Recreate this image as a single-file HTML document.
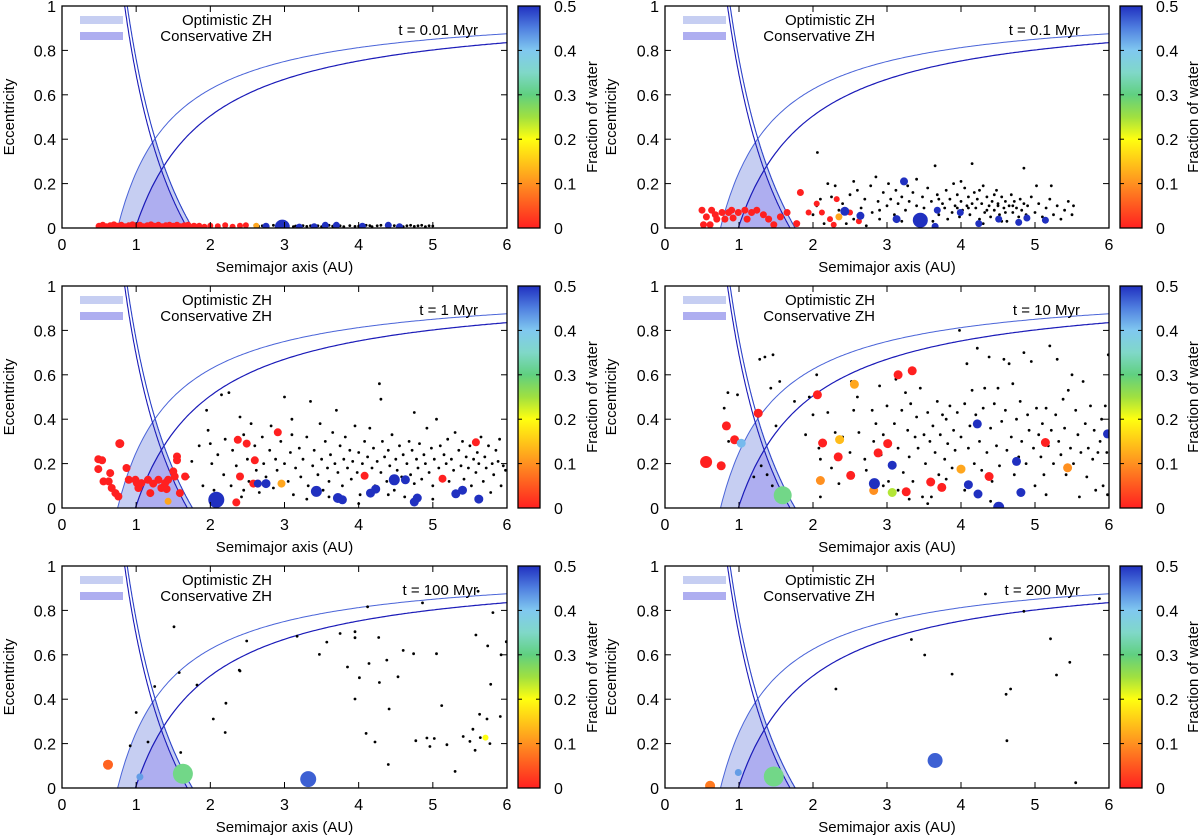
<!DOCTYPE html>
<html><head><meta charset="utf-8">
<style>
html,body{margin:0;padding:0;background:#fff;}
svg{display:block;font-family:"Liberation Sans",sans-serif;}
</style></head>
<body>
<svg id="fig" width="1200" height="837" viewBox="0 0 1200 837" xmlns="http://www.w3.org/2000/svg">
<defs>
<linearGradient id="cbg" x1="0" y1="1" x2="0" y2="0">
<stop offset="0" stop-color="#ff2020"/><stop offset="0.2" stop-color="#ff9020"/><stop offset="0.4" stop-color="#ffff10"/><stop offset="0.5" stop-color="#a0e040"/><stop offset="0.6" stop-color="#60d080"/><stop offset="0.7" stop-color="#80d8c8"/><stop offset="0.8" stop-color="#80c8f0"/><stop offset="0.9" stop-color="#5080e0"/><stop offset="1" stop-color="#2030c0"/>
</linearGradient>
</defs>
</svg>
<script>
// ---- data (a [AU], e) ----
const panelTimes = ["t = 0.01 Myr","t = 0.1 Myr","t = 1 Myr","t = 10 Myr","t = 100 Myr","t = 200 Myr"];
const xTicks = [0,1,2,3,4,5,6];
const yTicks = [0,0.2,0.4,0.6,0.8,1];
const yTickLabels = ["0","0.2","0.4","0.6","0.8","1"];
const cbTicks = [0,0.1,0.2,0.3,0.4,0.5];
const cbTickLabels = ["0","0.1","0.2","0.3","0.4","0.5"];
// HZ limits: optimistic / conservative (periastron q, apoastron Q)
const hzOptimistic = [0.75, 1.76];
const hzConservative = [0.99, 1.69];

// dots: flat [a,e,...]; bodies: flat [a,e,water,radius,...]
const dots1 = [2.6,.012,2.65,.008,2.7,.01,2.78,.006,2.85,.012,2.9,.008,3.05,.01,3.12,.006,3.25,.011,3.3,.007,3.45,.01,3.5,.006,3.6,.012,3.65,.008,3.75,.01,3.8,.006,3.88,.011,3.95,.007,4.05,.01,4.1,.012,4.18,.006,4.25,.01,4.3,.012,4.38,.007,4.48,.011,4.6,.006,4.65,.01,4.7,.012,4.75,.007,4.8,.01,4.85,.012,4.9,.006,4.95,.01,5.0,.009,3.35,.01,3.15,.009,2.95,.012,3.55,.01,4.0,.008,4.15,.011];
const bodies1 = [0.5,.008,0,3.5,0.55,.012,0,3.5,0.6,.006,0,3.5,0.65,.01,0,3.5,0.7,.014,0,3.5,0.75,.008,0,3.5,0.8,.012,0,3.5,0.85,.006,0,3.5,0.9,.01,0,3.5,0.95,.014,0,3.5,1.0,.008,0,3.5,1.05,.012,0,3.5,1.1,.006,0,3.5,1.15,.01,0,3.5,1.2,.014,0,3.5,1.25,.008,0,3.5,1.3,.012,0,3.5,1.35,.006,0,3.5,1.4,.01,0,3.5,1.45,.012,0,3.5,1.5,.008,0,3.5,1.55,.012,0,3.5,1.6,.006,0,3.5,1.65,.01,0,3.5,1.7,.012,0,3.5,1.78,.008,0,3.5,1.85,.01,0,3,1.92,.006,0,3,2.0,.01,0,3,2.1,.008,0,3,2.2,.012,0,3,2.3,.006,0,3,2.4,.01,0,3,2.48,.012,0,3,2.62,.01,0.12,3,2.75,.008,0.5,3.5,2.97,.004,0.5,7.5,3.2,.004,0.5,3.5,3.4,.006,0.5,3.5,3.55,.012,0.5,3.5,3.7,.012,0.5,3.5,4.05,.008,0.5,3.5,4.4,.012,0.5,3.5,4.55,.006,0.5,3.5];
const dots2 = [2.0,.06,2.05,.1,2.1,.13,2.15,.02,2.2,.2,2.25,.14,2.3,.19,2.35,.08,2.4,.11,2.45,.02,2.5,.15,2.55,.04,2.6,.17,2.65,.09,2.7,.13,2.72,.01,2.78,.19,2.8,.07,2.85,.23,2.88,.12,2.9,.04,2.95,.16,3.0,.1,3.02,.2,3.05,.13,3.1,.06,3.12,.17,3.15,.11,3.2,.14,3.25,.08,3.28,.19,3.3,.12,3.35,.16,3.4,.1,3.42,.05,3.48,.14,3.5,.09,3.55,.18,3.6,.12,3.62,.03,3.65,.28,3.68,.15,3.7,.06,3.75,.11,3.78,.09,3.8,.17,3.82,.04,3.85,.13,3.88,.07,3.9,.2,3.92,.1,3.95,.15,3.98,.05,4.0,.12,4.02,.08,4.05,.18,4.08,.1,4.1,.14,4.12,.06,4.15,.29,4.15,.11,4.18,.16,4.2,.09,4.22,.13,4.25,.04,4.28,.11,4.3,.19,4.32,.07,4.35,.14,4.38,.1,4.4,.05,4.42,.12,4.45,.08,4.48,.17,4.5,.11,4.52,.06,4.55,.14,4.58,.09,4.6,.12,4.62,.03,4.65,.1,4.68,.15,4.7,.07,4.72,.12,4.75,.09,4.78,.05,4.8,.13,4.82,.08,4.85,.27,4.85,.11,4.88,.06,4.9,.1,4.95,.14,5.0,.07,5.02,.19,5.05,.11,5.1,.05,5.15,.09,5.2,.13,5.22,.19,5.25,.06,5.3,.1,5.35,.04,5.4,.08,5.45,.12,5.5,.06,5.52,.1,2.06,.34,2.55,.21,3.4,.22,3.7,.13,4.3,.02,4.0,.21,3.2,.03,2.9,.08,4.45,.15,4.55,.03,4.25,.17,3.95,.09,4.35,.08,4.6,.07,4.1,.09,4.5,.1,4.7,.1];
const bodies2 = [0.5,.08,0,3.5,0.56,.05,0,3.5,0.63,.08,0,3.5,0.7,.04,0,3.5,0.77,.07,0,3.5,0.61,.015,0,3.5,0.52,.015,0,3.5,0.86,.07,0,3.5,0.9,.08,0,3.5,0.99,.07,0,3.5,1.08,.08,0,3.5,1.17,.07,0,3.5,1.24,.08,0,3.5,1.33,.06,0,3.5,1.4,.04,0,3.5,1.47,.015,0,3.5,1.56,.05,0,3.5,1.65,.07,0,3.5,0.92,.045,0,3.5,1.11,.04,0,3.5,1.83,.16,0,3.5,1.78,.02,0,3.5,1.94,.07,0,3,2.05,.11,0,3,2.12,.07,0,3,2.23,.04,0,3,2.32,.13,0,3,2.28,.015,0,3,2.5,.07,0,3,2.62,.03,0,3,0.68,.06,0,3.5,0.81,.04,0,3.5,2.35,.05,0.12,3.5,2.43,.075,0.5,4.5,2.64,.055,0.5,4,3.13,.04,0.5,4,3.23,.21,0.5,4,3.45,.035,0.5,7.5,3.65,.007,0.5,3.5,3.68,.08,0.5,3.5,3.99,.07,0.5,3.5,4.24,.02,0.5,3.5,4.51,.04,0.5,3.5,4.78,.025,0.5,3.5,4.89,.045,0.5,3.5,5.14,.035,0.5,3.5];
const dots3 = [1.75,.21,1.7,.14,1.85,.28,1.9,.1,1.95,.44,1.97,.35,2.0,.29,2.02,.2,2.05,.08,2.1,.24,2.15,.51,2.18,.15,2.2,.31,2.25,.52,2.28,.1,2.3,.26,2.35,.19,2.4,.41,2.42,.05,2.45,.33,2.5,.22,2.52,.12,2.55,.38,2.6,.28,2.62,.17,2.66,.07,2.7,.32,2.72,.2,2.75,.14,2.8,.26,2.82,.37,2.85,.09,2.88,.22,2.9,.17,2.95,.3,3.0,.5,3.0,.2,3.05,.12,3.08,.25,3.1,.33,3.12,.06,3.15,.18,3.2,.27,3.22,.14,3.25,.22,3.3,.32,3.32,.1,3.35,.48,3.38,.19,3.4,.26,3.45,.15,3.48,.38,3.5,.22,3.52,.08,3.55,.3,3.58,.18,3.6,.12,3.62,.24,3.65,.34,3.68,.2,3.7,.44,3.72,.16,3.75,.28,3.78,.1,3.8,.22,3.82,.32,3.85,.18,3.88,.26,3.9,.13,3.92,.21,3.95,.37,3.98,.16,4.0,.25,4.02,.06,4.05,.2,4.08,.3,4.1,.14,4.12,.23,4.15,.36,4.18,.18,4.2,.27,4.22,.1,4.25,.21,4.28,.56,4.3,.49,4.3,.16,4.32,.3,4.35,.23,4.38,.12,4.4,.26,4.42,.19,4.45,.33,4.48,.08,4.5,.22,4.52,.17,4.55,.28,4.58,.14,4.6,.24,4.62,.05,4.65,.2,4.68,.3,4.7,.15,4.72,.26,4.75,.43,4.75,.11,4.78,.22,4.8,.18,4.82,.29,4.85,.13,4.88,.24,4.9,.2,4.92,.36,4.95,.16,4.98,.27,5.0,.1,5.02,.22,5.05,.4,5.08,.18,5.1,.28,5.12,.14,5.15,.24,5.18,.2,5.2,.31,5.22,.12,5.25,.22,5.28,.17,5.3,.34,5.32,.07,5.35,.26,5.38,.19,5.4,.3,5.42,.13,5.45,.23,5.48,.18,5.5,.28,5.52,.1,5.55,.22,5.58,.16,5.6,.25,5.62,.2,5.65,.32,5.68,.12,5.7,.23,5.72,.18,5.75,.28,5.78,.07,5.8,.2,5.82,.15,5.85,.26,5.88,.21,5.9,.31,5.92,.1,5.95,.19,5.98,.17,3.1,.4,2.45,.08,3.6,.05,4.0,.02,4.4,.06,5.0,.04,5.6,.05,3.3,.04];
const bodies3 = [0.49,.22,0,4,0.49,.175,0,4,0.54,.215,0,4,0.56,.12,0,4,0.63,.12,0,4,0.65,.157,0,4,0.67,.09,0,4,0.72,.067,0,4,0.78,.29,0,4.5,0.76,.052,0,4,0.87,.18,0,4,0.9,.127,0,4,0.99,.127,0,4,1.01,.112,0,4,1.03,.09,0,4,1.07,.112,0,4,1.16,.127,0,4,1.19,.067,0,4,1.23,.11,0,4,1.3,.127,0,4,1.34,.09,0,4,1.39,.112,0,4,1.41,.085,0,4,1.43,.127,0,4,1.5,.165,0,4,1.52,.142,0,4,1.55,.232,0,4,1.55,.215,0,4,1.59,.067,0,4,1.66,.142,0,4,2.37,.307,0,4,2.49,.29,0,4,2.6,.215,0,4,2.4,.142,0,4,2.35,.025,0,4,2.64,.11,0,4,2.91,.341,0,4,4.08,.145,0,4,5.13,.132,0,4,5.58,.296,0,4,2.58,.11,0,4,1.43,.03,0.12,3.5,2.96,.11,0.12,4,2.08,.037,0.5,8,2.64,.11,0.5,4,2.75,.11,0.5,4.5,3.43,.075,0.5,5.5,3.72,.045,0.5,5,3.78,.037,0.5,4.5,4.16,.067,0.5,4.5,4.23,.085,0.5,4.5,4.48,.127,0.5,5.5,4.63,.127,0.5,4.5,4.75,.027,0.5,4.5,4.79,.045,0.5,4.5,5.31,.064,0.5,4.5,5.4,.08,0.5,4.5,5.62,.04,0.5,4.5];
const dots4 = [0.8,.45,0.85,.52,0.86,.3,0.98,.51,1.28,.67,1.35,.68,1.46,.69,1.43,.54,1.38,.15,1.2,.14,1.3,.19,1.5,.37,1.55,.57,1.45,.1,1.75,.48,1.9,.33,1.95,.5,2.0,.42,2.05,.6,2.08,.27,2.1,.22,2.2,.43,2.25,.18,2.3,.34,2.35,.11,2.4,.32,2.1,.05,2.5,.25,2.52,.57,2.6,.5,2.62,.34,2.7,.22,2.72,.17,2.8,.44,2.82,.3,2.85,.38,2.9,.55,2.92,.24,2.95,.33,3.0,.46,3.02,.12,3.05,.2,3.1,.38,3.12,.58,3.15,.27,3.2,.44,3.22,.16,3.25,.52,3.28,.35,3.3,.23,3.32,.47,3.35,.12,3.38,.32,3.4,.41,3.42,.27,3.45,.54,3.48,.05,3.5,.33,3.52,.2,3.55,.43,3.58,.3,3.6,.05,3.62,.37,3.65,.25,3.68,.48,3.7,.15,3.72,.33,3.75,.42,3.78,.22,3.8,.4,3.82,.29,3.85,.46,3.88,.18,3.9,.35,3.92,.26,3.95,.43,3.98,.8,4.0,.32,4.02,.18,4.05,.47,4.08,.65,4.1,.27,4.12,.37,4.15,.53,4.18,.2,4.2,.42,4.22,.72,4.25,.3,4.28,.17,4.3,.45,4.32,.54,4.35,.25,4.38,.68,4.4,.36,4.42,.12,4.45,.47,4.48,.28,4.5,.54,4.52,.19,4.55,.39,4.58,.67,4.6,.44,4.62,.26,4.65,.65,4.68,.32,4.7,.56,4.72,.15,4.75,.4,4.78,.23,4.8,.48,4.82,.3,4.85,.7,4.88,.2,4.9,.42,4.92,.35,4.95,.66,4.98,.27,5.0,.1,5.02,.45,5.05,.33,5.08,.23,5.1,.38,5.12,.15,5.15,.45,5.18,.28,5.2,.73,5.22,.35,5.25,.2,5.28,.42,5.3,.67,5.32,.3,5.35,.24,5.38,.49,5.4,.36,5.42,.15,5.45,.53,5.48,.27,5.5,.6,5.52,.2,5.55,.44,5.58,.33,5.6,.05,5.62,.25,5.65,.57,5.68,.38,5.7,.14,5.72,.27,5.75,.46,5.78,.22,5.8,.35,5.82,.08,5.85,.25,5.88,.3,5.9,.4,5.92,.1,5.95,.46,5.98,.06,5.99,.69,5.97,.25,3.3,.04,3.55,.02,4.4,.03,3.8,.13,4.05,.08,5.15,.06,2.55,.44,2.95,.1,3.15,.08];
const bodies4 = [0.555,.207,0,6,0.76,.19,0,4.5,0.83,.37,0,4.5,0.94,.307,0,4.5,1.26,.427,0,4.5,2.06,.51,0,4.5,2.13,.293,0,4.5,2.34,.23,0,4.5,2.51,.147,0,4.5,2.88,.248,0,4.5,3.01,.29,0,4.5,3.15,.6,0,4.5,3.34,.618,0,4.5,3.26,.073,0,4.5,3.59,.117,0,4.5,3.74,.093,0,4.5,4.38,.142,0,4.5,5.14,.295,0,4.5,2.56,.557,0.12,4.5,2.36,.308,0.14,4.5,2.1,.124,0.1,4.5,2.82,.079,0.1,4.5,4.0,.175,0.12,4.5,5.44,.181,0.1,4.5,1.03,.292,0.41,4.5,1.59,.057,0.31,9,3.07,.07,0.24,4.5,2.83,.11,0.5,5.5,3.07,.193,0.5,4.5,4.1,.105,0.5,4.5,4.23,.063,0.5,4.5,4.22,.379,0.5,4.5,4.51,.003,0.5,5.5,4.75,.21,0.5,4.5,4.81,.07,0.5,4.5,5.98,.334,0.5,4.5];
const dots5 = [1.51,.726,0.92,.19,1.0,.34,1.16,.207,1.25,.457,1.58,.52,1.6,.16,1.82,.464,2.04,.311,2.21,.382,2.2,.25,2.39,.531,2.4,.527,2.49,.662,3.17,.684,3.47,.602,3.57,.657,3.75,.696,3.85,.545,3.95,.704,3.95,.677,3.95,.401,4.01,.497,4.1,.246,4.12,.816,4.14,.561,4.22,.207,4.27,.678,4.28,.475,4.38,.576,4.4,.106,4.41,.356,4.53,.501,4.6,.62,4.74,.605,4.77,.213,4.86,.834,4.96,.187,4.92,.225,5.02,.223,5.05,.605,5.12,.371,5.19,.195,5.3,.075,5.41,.232,5.5,.21,5.54,.265,5.57,.17,5.58,.689,5.63,.332,5.64,.227,5.73,.311,5.74,.64,5.77,.2,5.78,.467,5.81,.79,5.91,.322,5.92,.6,5.99,.659,5.61,.886];
const bodies5 = [0.62,.105,0.06,5,1.05,.05,0.43,3.5,1.63,.064,0.31,10,3.32,.04,0.47,8,5.71,.227,0.2,3];
const dots6 = [2.31,.446,3.13,.783,3.33,.669,3.51,.599,3.88,.513,4.33,.874,4.61,.422,4.67,.446,4.62,.213,4.85,.796,5.21,.672,5.29,.509,5.47,.566,5.55,.024,5.87,.853];
const bodies6 = [0.61,.01,0.08,5,0.99,.07,0.43,3.5,1.47,.052,0.31,10,3.65,.124,0.47,7.5];
const allDots = [dots1,dots2,dots3,dots4,dots5,dots6];
const allBodies = [bodies1,bodies2,bodies3,bodies4,bodies5,bodies6];

const NS = "http://www.w3.org/2000/svg";
const svg = document.getElementById('fig');
function mk(tag, attrs, parent){ const el=document.createElementNS(NS,tag); for(const k in attrs) el.setAttribute(k,attrs[k]); (parent||svg).appendChild(el); return el; }
function txt(s, attrs, parent){ const t=mk('text',attrs,parent); t.textContent=s; return t; }

const cmapStops = [[0,[255,32,32]],[0.1,[255,144,32]],[0.2,[255,255,16]],[0.25,[160,224,64]],[0.3,[110,215,120]],[0.35,[128,216,200]],[0.4,[128,200,240]],[0.45,[80,128,224]],[0.5,[32,48,192]]];
function cmap(w){
  for(let i=1;i<cmapStops.length;i++){ if(w<=cmapStops[i][0]){ const [w0,c0]=cmapStops[i-1],[w1,c1]=cmapStops[i]; const t=(w-w0)/(w1-w0); return 'rgb('+c0.map((v,j)=>Math.round(v+(c1[j]-v)*t)).join(',')+')'; } }
  return 'rgb(32,48,192)';
}

const cols=[{x0:62,x1:507,cb:518,yl:9,cbl:592},{x0:665,x1:1109,cb:1120,yl:611,cbl:1193}];
const rowsTop=[6,286,566];
const H=222;

for(let p=0;p<6;p++){
  const c=cols[p%2], top=rowsTop[Math.floor(p/2)], bot=top+H;
  const g=mk('g',{});
  
  
  const xs=a=>c.x0+a/6*(c.x1-c.x0);
  const ys=e=>bot-e*H;
  const clipId='clip'+p;
  const cp=mk('clipPath',{id:clipId},g); mk('rect',{x:c.x0,y:top,width:c.x1-c.x0,height:H},cp);
  const inner=mk('g',{'clip-path':'url(#'+clipId+')'},g);
  // HZ fills
  function hzPoly(q,Q){ const pts=[]; const ac=(q+Q)/2; for(let i=0;i<=40;i++){const a=q+(ac-q)*i/40; pts.push([a,1-q/a]);} for(let i=0;i<=40;i++){const a=ac+(Q-ac)*i/40; pts.push([a,Q/a-1]);} return pts.map(v=>xs(v[0]).toFixed(1)+','+ys(v[1]).toFixed(1)).join(' '); }
  const f1=mk('polygon',{points:hzPoly(hzOptimistic[0],hzOptimistic[1]),fill:'#c6cef2'},inner);
  
  
  const f2=mk('polygon',{points:hzPoly(hzConservative[0],hzConservative[1]),fill:'#aeaef0'},inner);
  
  
  function curve(fn,a0,a1,col,w,name){ const pts=[]; for(let i=0;i<=200;i++){const a=a0+(a1-a0)*i/200; pts.push(xs(a).toFixed(1)+','+ys(fn(a)).toFixed(1));} const l=mk('polyline',{points:pts.join(' '),fill:'none',stroke:col,'stroke-width':w},inner);   }
  curve(a=>1-hzOptimistic[0]/a,hzOptimistic[0],6,'#4a64d8',1,'optimistic-inner-edge');
  curve(a=>1-hzConservative[0]/a,hzConservative[0],6,'#1a1ab8',1.2,'conservative-inner-edge');
  curve(a=>hzOptimistic[1]/a-1,hzOptimistic[1]/2.05,hzOptimistic[1],'#2a40c8',1.1,'optimistic-outer-edge');
  curve(a=>hzConservative[1]/a-1,hzConservative[1]/2.05,hzConservative[1],'#1a1ab8',1.1,'conservative-outer-edge');
  // dots
  const d=allDots[p];
  for(let i=0;i<d.length;i+=2){ const el=mk('circle',{cx:xs(d[i]).toFixed(1),cy:ys(d[i+1]).toFixed(1),r:1.4,fill:'#000'},inner);
    
     }
  const b=allBodies[p];
  for(let i=0;i<b.length;i+=4){ const el=mk('circle',{cx:xs(b[i]).toFixed(1),cy:ys(b[i+1]).toFixed(1),r:b[i+3],fill:cmap(b[i+2])},inner);
    
     }
  // frame
  mk('rect',{x:c.x0,y:top,width:c.x1-c.x0,height:H,fill:'none',stroke:'#000','stroke-width':1.3},g);
  // ticks
  xTicks.forEach(t=>{const x=xs(t); mk('line',{x1:x,y1:bot,x2:x,y2:bot-6,stroke:'#000'},g); mk('line',{x1:x,y1:top,x2:x,y2:top+6,stroke:'#000'},g);
    const l=txt(String(t),{x:x,y:bot+22,'font-size':16,'text-anchor':'middle'},g);  });
  yTicks.forEach((t,i)=>{const y=ys(t); mk('line',{x1:c.x0,y1:y,x2:c.x0+6,y2:y,stroke:'#000'},g); mk('line',{x1:c.x1,y1:y,x2:c.x1-6,y2:y,stroke:'#000'},g);
    const l=txt(yTickLabels[i],{x:c.x0-6,y:y+6,'font-size':16,'text-anchor':'end'},g);  });
  const xt=txt('Semimajor axis (AU)',{x:(c.x0+c.x1)/2,y:top+266,'font-size':15,'text-anchor':'middle'},g);
   
  const yt=txt('Eccentricity',{x:c.yl+5,y:top+H/2,'font-size':15,'text-anchor':'middle',transform:'rotate(-90 '+(c.yl+5)+' '+(top+H/2)+')'},g);
   
  // legend
  const lg=mk('g',{},g);  
  mk('rect',{x:c.x0+18,y:top+10,width:43,height:8,fill:'#c6cef2'},lg);
  mk('rect',{x:c.x0+18,y:top+26,width:43,height:8,fill:'#aeaef0'},lg);
  txt('Optimistic ZH',{x:c.x0+210,y:top+19,'font-size':15,'text-anchor':'end'},lg);
  txt('Conservative ZH',{x:c.x0+210,y:top+35,'font-size':15,'text-anchor':'end'},lg);
  const tl=txt(panelTimes[p],{x:c.x1-29,y:top+29,'font-size':15,'text-anchor':'end'},g);
   
  // colorbar
  const cb=mk('g',{},g);  
  mk('rect',{x:c.cb,y:top,width:22,height:H,fill:'url(#cbg)',stroke:'#000','stroke-width':1.3},cb);
  cbTicks.forEach((t,i)=>{const y=bot-t/0.5*H; if(i>0&&i<5){mk('line',{x1:c.cb,y1:y,x2:c.cb+4,y2:y,stroke:'#000'},cb); mk('line',{x1:c.cb+18,y1:y,x2:c.cb+22,y2:y,stroke:'#000'},cb);}
    txt(cbTickLabels[i],{x:c.cb+36,y:y+6,'font-size':16},cb);});
  const ct=txt('Fraction of water',{x:c.cbl+5,y:top+H/2,'font-size':15,'text-anchor':'middle',transform:'rotate(-90 '+(c.cbl+5)+' '+(top+H/2)+')'},g);
   
}
</script>
</body></html>
